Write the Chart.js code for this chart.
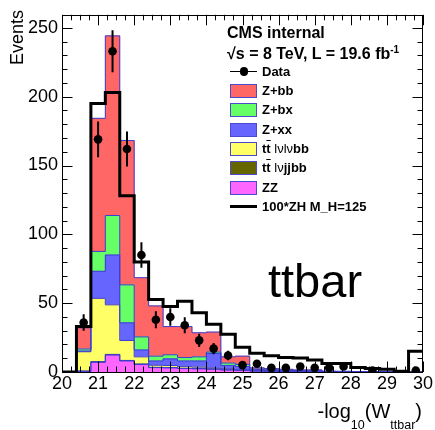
<!DOCTYPE html>
<html><head><meta charset="utf-8">
<script src="https://cdn.jsdelivr.net/npm/chart.js@4/dist/chart.umd.min.js"></script>
<style>
html,body{margin:0;padding:0;background:#fff;}
#wrap{position:relative;width:435px;height:430px;font-family:"Liberation Sans",Arial,Helvetica,sans-serif;color:#000;overflow:hidden;}
#c{position:absolute;left:0;top:0;}
.t{position:absolute;white-space:nowrap;line-height:1;}
.lg{position:absolute;white-space:nowrap;font-weight:bold;font-size:13px;line-height:14px;left:262px;}
.box{position:absolute;left:230px;width:25px;height:12px;border:1px solid #4a4ad0;}
.n{font-weight:normal;}
.ob{text-decoration:overline;}
</style></head><body>
<div id="wrap">
<canvas id="c" width="435" height="430"></canvas>
<div class="t" style="left:227px;top:25px;font-size:16px;font-weight:bold;">CMS internal</div>
<div class="t" style="left:227px;top:45px;font-size:16px;font-weight:bold;">&#8730;s = 8 TeV, L = 19.6 fb<sup style="font-size:10px;vertical-align:6px;">-1</sup></div>
<div class="t" style="left:268px;top:257px;font-size:47px;">ttbar</div>
<div class="t" style="left:8px;top:90px;width:80px;text-align:right;font-size:18px;transform-origin:left top;transform:rotate(-90deg);">Events</div>
<div class="t" style="right:13px;top:401px;font-size:20px;text-align:right;">-log<span style="font-size:12.5px;vertical-align:-11px;">10</span>(W<span style="font-size:12.5px;vertical-align:-11px;">ttbar</span>)</div>
<div id="legend"></div>
</div>
<script>
// ---- data ----
const binLow = [20.0,20.4,20.8,21.2,21.6,22.0,22.4,22.8,23.2,23.6,24.0,24.4,24.8,25.2,25.6,26.0,26.4,26.8,27.2,27.6,28.0,28.4,28.8,29.2,29.6];
const binWidth = 0.4;
const xTickMin = 20, xTickMax = 30;
const yTickStep = 50;
const zz   = [0,0.5,7,12.3,8,5.5,3.2,3,2.5,2.3,2,1.5,1.2,0.7,0.5,0.4,0.3,0.3,0.1,0.1,0.05,0.05,0.05,0.05,0.05];
const ttjj = [0,0.2,0.5,0.5,0.4,0.3,0.2,0.2,0.2,0.2,0.2,0.1,0.1,0.05,0.05,0,0,0,0,0,0,0,0,0,0];
const ttll = [0,14,46,36,14.5,5.2,1.5,1.5,1.2,1.0,0.7,0.8,0.6,0.3,0.2,0.2,0.1,0.1,0,0,0,0,0,0,0];
const zxx  = [0,0.5,19.7,36.2,12.8,5,3.1,4.8,4.1,4.5,10.6,2.4,2.1,0.6,0.5,0.4,0.35,0.3,0.2,0.2,0.15,0.15,0.1,0.1,0.1];
const zbx  = [0,1.5,14.4,28.7,27.6,9.5,3.5,3,2.5,3,1,1.7,1.5,0.45,0.4,0.35,0.3,0.5,0.1,0.1,0.05,0.05,0.05,0.05,0.05];
const zbb  = [0,15.4,96.7,130.5,104.9,43,36.5,20.5,22.5,17.5,14.5,4.5,6,0.9,0.85,0.65,0.45,0.3,0.2,0.1,0.05,0.05,0.05,0.05,0.05];
const signalZH = [0,33,195,203,128,80,52.6,47.6,51.4,43,34.6,27.4,18,13.7,11.8,10.5,10.2,8.8,6.2,6.2,3.2,2.5,2,0.5,15];
const dataCounts = [null,36,169,233,162,85,38,40,34,23,17,12,5,6,3,3,4,3,3,4,null,1,null,null,1];

const seriesNames = ['Z+bb','Z+bx','Z+xx','tt\u0304 l\u03bdl\u03bdbb','tt\u0304 l\u03bdjjbb','ZZ'];
const stackOrder = [ // bottom to top
  {name:'ZZ', values: zz, color:'#ff66ff'},
  {name:'tt lvjjbb', values: ttjj, color:'#666600'},
  {name:'tt lvlvbb', values: ttll, color:'#ffff66'},
  {name:'Z+xx', values: zxx, color:'#6666ff'},
  {name:'Z+bx', values: zbx, color:'#66ff66'},
  {name:'Z+bb', values: zbb, color:'#ff6666'}
];
const outlineColor = '#3c3cd0';
const yMax = 259.5;

// ---- build datasets ----
const centers = binLow.map(v => +(v + binWidth/2).toFixed(3));
const edgesWithEnd = binLow.concat([xTickMax]);
const stepData = arr => edgesWithEnd.map((x,i) => ({x, y: arr[Math.min(i, arr.length-1)]}));

const datasets = [];
// data points
datasets.push({type:'line', label:'Data', yAxisID:'yo', order:0, showLine:false,
  data: centers.map((x,i)=>({x, y: dataCounts[i]})),
  pointRadius:4.3, pointHoverRadius:4.3, pointBackgroundColor:'#000', pointBorderWidth:0, pointStyle:'circle'});
// error bars
const errPts = [];
centers.forEach((x,i)=>{ const n = dataCounts[i]; if (n===null) return; const e = Math.sqrt(n);
  errPts.push({x, y:n-e}); errPts.push({x, y:n+e}); errPts.push({x, y:null}); });
datasets.push({type:'line', label:'err', yAxisID:'yo', order:1, data: errPts, borderColor:'#000', borderWidth:2,
  pointRadius:0, spanGaps:false, tension:0});
// signal
datasets.push({type:'line', label:'100*ZH M_H=125', yAxisID:'yo', order:2, data: stepData(signalZH),
  stepped:true, borderColor:'#000', borderWidth:3, pointRadius:0, fill:false});
// outlines (stacked)
stackOrder.forEach(s => datasets.push({type:'line', label:s.name+' outline', yAxisID:'y', stack:'outline', order:3,
  data: stepData(s.values), stepped:true, borderColor:outlineColor, borderWidth:1, pointRadius:0, fill:false}));
// bars (stacked)
stackOrder.forEach(s => datasets.push({type:'bar', label:s.name, yAxisID:'y', stack:'bkg', order:4,
  data: centers.map((x,i)=>({x, y:s.values[i]})), backgroundColor:s.color, borderWidth:0,
  barPercentage:1, categoryPercentage:1}));

// frame & inward ticks drawn from the scales
const frameTicks = {
  id:'frameTicks',
  afterDraw(chart){
    const {ctx, chartArea:a} = chart; const xs = chart.scales.x, ys = chart.scales.y;
    ctx.save(); ctx.strokeStyle='#000'; ctx.lineWidth=1; ctx.beginPath();
    const nx = (xTickMax - xTickMin)*4;
    for (let i=0;i<=nx;i++){ const v = xTickMin + i/4; const px = Math.round(xs.getPixelForValue(v))+0.5;
      const L = (i%4===0)?10.5:5.5;
      ctx.moveTo(px,a.bottom); ctx.lineTo(px,a.bottom-L); ctx.moveTo(px,a.top); ctx.lineTo(px,a.top+L); }
    for (let v=0; v<=yMax; v+=10){ const py = Math.round(ys.getPixelForValue(v))+0.5;
      const L = (v%yTickStep===0)?10.5:5.5;
      ctx.moveTo(a.left,py); ctx.lineTo(a.left+L,py); ctx.moveTo(a.right,py); ctx.lineTo(a.right-L,py); }
    ctx.stroke();
    ctx.strokeRect(Math.round(a.left)+0.5, Math.round(a.top)+0.5, Math.round(a.right-a.left)-1, Math.round(a.bottom-a.top));
    ctx.restore();
  }
};

const tickFont = {family:'"Liberation Sans", Arial, sans-serif', size:18};
new Chart(document.getElementById('c'), {
  data:{datasets},
  options:{
    responsive:false, animation:false, devicePixelRatio:1,
    layout:{padding:{left:0, top:12, right:12, bottom:0}, autoPadding:false},
    plugins:{legend:{display:false}, tooltip:{enabled:false}},
    scales:{
      x:{type:'linear', min:xTickMin, max:xTickMax, offset:false, stacked:true,
        grid:{display:false, drawTicks:false}, border:{display:false},
        ticks:{stepSize:1, font:tickFont, color:'#000', padding:1, maxRotation:0, includeBounds:false},
        afterFit(s){ s.height = 58; }},
      y:{type:'linear', min:0, max:yMax, stacked:true,
        grid:{display:false, drawTicks:false}, border:{display:false},
        ticks:{stepSize:yTickStep, font:tickFont, color:'#000', padding:4, includeBounds:false},
        afterFit(s){ s.width = 62; }},
      yo:{type:'linear', min:0, max:yMax, display:false, stacked:false}
    }
  },
  plugins:[frameTicks]
});

// ---- legend (HTML text) ----
const lg = document.getElementById('legend');
const rowC = i => 71.7 + 19.3*i;
const entries = [
  {kind:'data', html:'Data'},
  {kind:'box', color:'#ff6666', html:'Z+bb'},
  {kind:'box', color:'#66ff66', html:'Z+bx'},
  {kind:'box', color:'#6666ff', html:'Z+xx'},
  {kind:'box', color:'#ffff66', html:'t<span class="ob">t</span> <span class="n">l&#957;l&#957;</span>bb'},
  {kind:'box', color:'#666600', html:'t<span class="ob">t</span> <span class="n">l&#957;</span>jjbb'},
  {kind:'box', color:'#ff66ff', html:'ZZ'},
  {kind:'line', html:'100*ZH M_H=125'}
];
entries.forEach((e,i)=>{
  const c = rowC(i);
  if (e.kind==='box'){ const b=document.createElement('div'); b.className='box'; b.style.top=(c-7)+'px'; b.style.background=e.color; lg.appendChild(b); }
  else if (e.kind==='data'){ const l=document.createElement('div'); l.style.cssText=`position:absolute;left:230px;width:27px;top:${c-1}px;height:1.5px;background:#000;`; lg.appendChild(l);
    const d=document.createElement('div'); d.style.cssText=`position:absolute;left:239.5px;top:${c-4.3}px;width:8.6px;height:8.6px;border-radius:50%;background:#000;`; lg.appendChild(d); }
  else { const l=document.createElement('div'); l.style.cssText=`position:absolute;left:230px;width:27px;top:${c-1.5}px;height:3px;background:#000;`; lg.appendChild(l); }
  const t=document.createElement('div'); t.className='lg'; t.style.top=(c-6.85)+'px'; t.innerHTML=e.html; lg.appendChild(t);
});
</script>
</body></html>
